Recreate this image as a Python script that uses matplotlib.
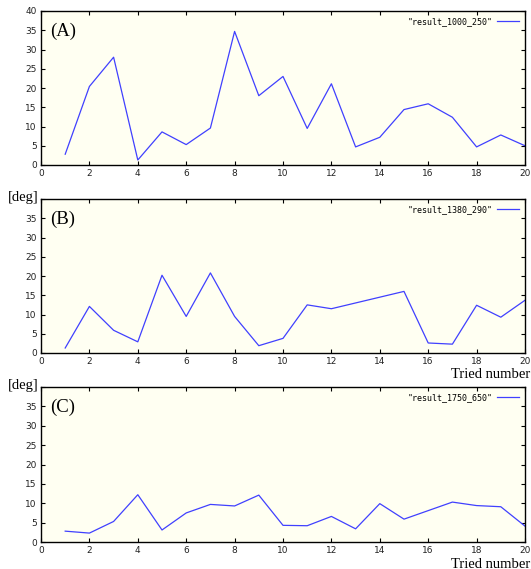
import matplotlib
matplotlib.use("Agg")
import matplotlib.pyplot as plt

tries = list(range(1, 21))
result_a = [2.8, 20.4, 28.0, 1.3, 8.6, 5.3, 9.6, 34.7, 18.0, 23.0,
            9.5, 21.1, 4.7, 7.2, 14.4, 15.9, 12.4, 4.7, 7.8, 5.0]
result_b = [1.3, 12.1, 5.9, 2.9, 20.2, 9.5, 20.8, 9.5, 1.9, 3.8,
            12.5, 11.5, 13.0, 14.5, 16.0, 2.6, 2.3, 12.4, 9.3, 13.7]
result_c = [2.8, 2.3, 5.3, 12.2, 3.1, 7.5, 9.7, 9.3, 12.1, 4.3,
            4.2, 6.6, 3.4, 9.9, 5.9, 8.1, 10.3, 9.4, 9.1, 4.1]
series = [result_a, result_b, result_c]
labels = ['"result_1000_250"', '"result_1380_290"', '"result_1750_650"']
panel_tags = ["(A)", "(B)", "(C)"]
xticks = list(range(0, 21, 2))

W, H = 531, 569
fig = plt.figure(figsize=(W / 100, H / 100), dpi=100)
fig.patch.set_facecolor("white")

# (top, bottom) in pixels for each panel
boxes = [(11, 165), (199, 353), (387, 542)]
left_px, right_px = 41, 525

for i, (ys, lab, tag, (t, b)) in enumerate(zip(series, labels, panel_tags, boxes)):
    ax = fig.add_axes([left_px / W, 1 - b / H, (right_px - left_px) / W, (b - t) / H])
    ax.set_facecolor("#fffff2")
    ax.plot(tries, ys, color="#4040ff", lw=0.9, label=lab)
    ax.set_xlim(0, 20)
    ax.set_ylim(0, 40)
    ax.set_xticks(xticks)
    ax.set_yticks(range(0, 41, 5))
    if i > 0:
        ax.set_yticklabels([str(v) if v < 40 else "" for v in range(0, 41, 5)])
    ax.tick_params(direction="in", length=3, width=0.8, top=True, right=True,
                   labelsize=6.5, colors="black", pad=3)
    for tl in ax.get_xticklabels() + ax.get_yticklabels():
        tl.set_family("DejaVu Sans")
        tl.set_color("#222222")
    for sp in ax.spines.values():
        sp.set_linewidth(1.0)
    ax.legend(loc="upper right", frameon=False, handlelength=2.6,
              handletextpad=0.5, borderaxespad=0.35, markerfirst=False,
              prop={"family": "DejaVu Sans Mono", "size": 6})
    ax.text(0.018, 0.87, tag, transform=ax.transAxes, fontsize=13.5,
            family="Liberation Serif", va="center", ha="left")
    if i > 0:
        fig.text(8 / W, 1 - (t - 1) / H, "[deg]", fontsize=10.5,
                 family="Liberation Serif", va="center", ha="left")
        fig.text(530 / W, 1 - (b + 22) / H, "Tried number", fontsize=10.5,
                 family="Liberation Serif", va="center", ha="right")

fig.savefig("out.png", dpi=100)
